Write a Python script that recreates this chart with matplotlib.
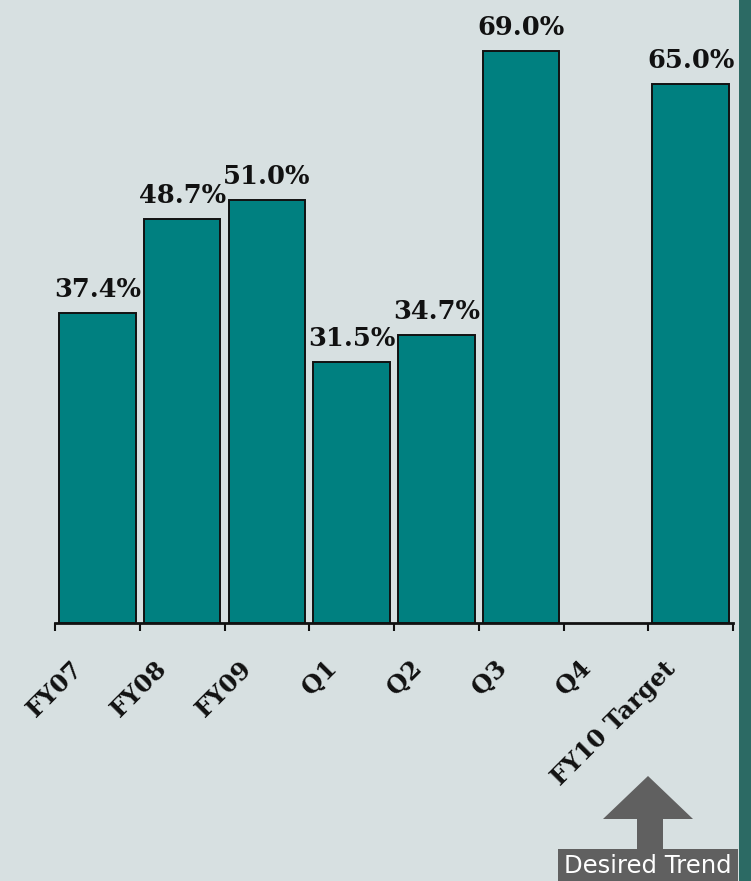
import matplotlib
matplotlib.use("Agg")
import matplotlib.pyplot as plt
import matplotlib.transforms as mtransforms
from matplotlib.patches import Rectangle, Polygon

# Chart data
categories = ["FY07", "FY08", "FY09", "Q1", "Q2", "Q3", "Q4", "FY10 Target"]
rates = [37.4, 48.7, 51.0, 31.5, 34.7, 69.0, None, 65.0]

BG = "#d7e0e1"
BAR = "#008080"
STRIP = "#2c6a64"
GREY = "#606060"

W, H = 751, 881
fig = plt.figure(figsize=(W / 100, H / 100), dpi=100, facecolor=BG)

# Axes placed by pixel edges: x from 55 to 733, baseline at y=623 (from top)
left, right = 55 / W, 733 / W
bottom = (H - 623) / H
ymax = 75.0
top_px = 623 - ymax * (572 / 69.0)
ax = fig.add_axes([left, bottom, right - left, (623 - top_px) / H])
ax.set_facecolor(BG)
ax.patch.set_alpha(0)

xs = list(range(len(categories)))
bx = [x for x, v in zip(xs, rates) if v is not None]
bv = [v for v in rates if v is not None]
bars = ax.bar(bx, bv, width=0.9, color=BAR, edgecolor="#111111", linewidth=1.4, zorder=3)

ax.set_xlim(-0.5, len(categories) - 0.5)
ax.set_ylim(0, ymax)

# Value labels above each bar
ax.bar_label(bars, labels=[f"{v:.1f}%" for v in bv], padding=8,
             fontsize=18.5, fontweight="bold", family="DejaVu Serif", color="#111111")

# Spines and ticks
for s in ("left", "top", "right"):
    ax.spines[s].set_visible(False)
ax.spines["bottom"].set_linewidth(2.0)
ax.spines["bottom"].set_color("#111111")
ax.set_yticks([])

boundaries = [i - 0.5 for i in range(len(categories) + 1)]
ax.set_xticks(boundaries)
ax.set_xticklabels([])
ax.tick_params(axis="x", which="major", direction="out", length=6, width=1.5, color="#111111")

# Category labels, rotated 45 degrees, below each category
ax.set_xticks(xs, minor=True)
ax.set_xticklabels(categories, minor=True, rotation=45, ha="right", va="top",
                   rotation_mode="anchor", fontsize=17.5, fontweight="bold",
                   family="DejaVu Serif", color="#111111")
ax.tick_params(axis="x", which="minor", length=0, pad=24)
shift = mtransforms.ScaledTranslation(-27 / 100, 0, fig.dpi_scale_trans)
for lbl in ax.get_xticklabels(minor=True):
    lbl.set_transform(lbl.get_transform() + shift)

# Dark strip on the right edge
fig.add_artist(Rectangle((739 / W, 0), (W - 739) / W, 1, transform=fig.transFigure,
                         facecolor=STRIP, edgecolor="none"))

# "Desired Trend" arrow and caption box
def fx(px):
    return px / W

def fy(py):
    return (H - py) / H

arrow = Polygon([(fx(648), fy(776)), (fx(693), fy(819)), (fx(663), fy(819)),
                 (fx(663), fy(850)), (fx(637), fy(850)), (fx(637), fy(819)),
                 (fx(603), fy(819))],
                closed=True, transform=fig.transFigure, facecolor=GREY, edgecolor="none")
fig.add_artist(arrow)
fig.add_artist(Rectangle((fx(558), 0), fx(738) - fx(558), fy(849), transform=fig.transFigure,
                         facecolor=GREY, edgecolor="none"))
fig.text((fx(558) + fx(738)) / 2, fy(866), "Desired Trend", color="white",
         fontsize=17.5, family="DejaVu Sans", ha="center", va="center")

fig.savefig("out.png", dpi=100, facecolor=BG)
